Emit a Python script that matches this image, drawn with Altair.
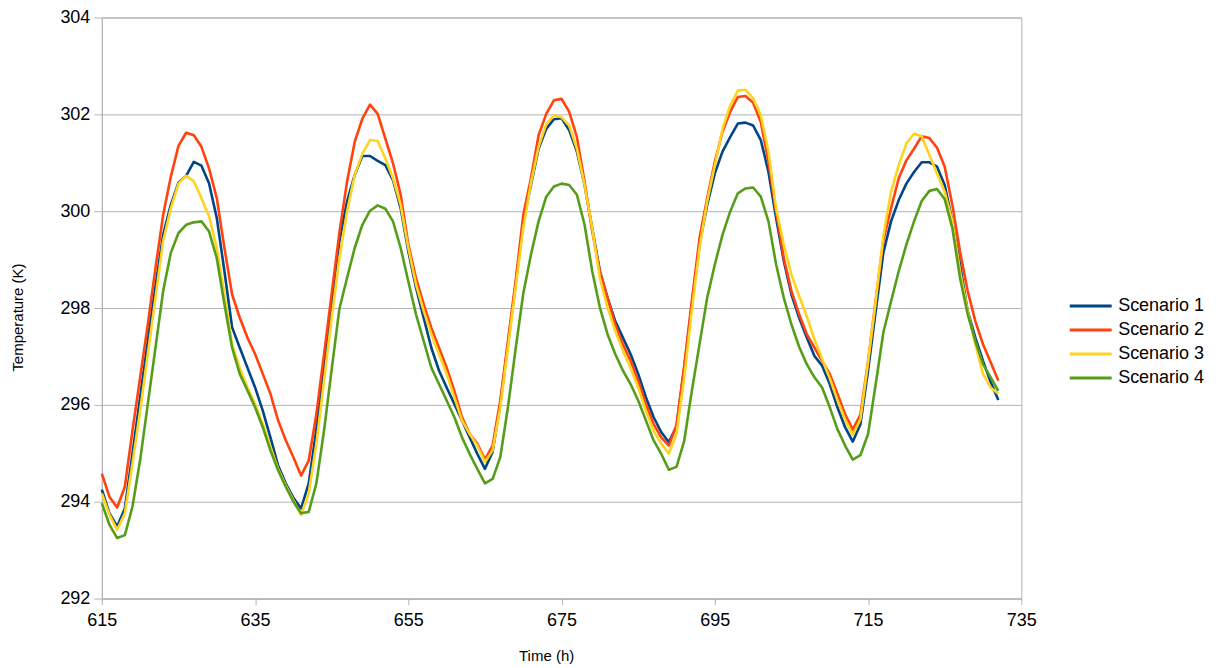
import altair as alt
import pandas as pd

hours = list(range(615, 733))

scenario_1 = [
    294.25, 293.76, 293.49, 293.86, 294.99, 296.16, 297.32, 298.45, 299.51, 300.13,
    300.59, 300.73, 301.02, 300.94, 300.57, 299.86, 298.76, 297.60, 297.18, 296.77,
    296.36, 295.88, 295.33, 294.75, 294.38, 294.08, 293.86, 294.38, 295.50, 296.80,
    298.11, 299.38, 300.20, 300.75, 301.14, 301.14, 301.04, 300.95, 300.64, 300.06,
    299.17, 298.42, 297.80, 297.18, 296.71, 296.36, 296.02, 295.68, 295.33, 294.99,
    294.68, 295.03, 296.02, 297.25, 298.49, 299.79, 300.54, 301.29, 301.70, 301.90,
    301.92, 301.67, 301.23, 300.54, 299.65, 298.76, 298.21, 297.73, 297.39, 297.05,
    296.64, 296.16, 295.75, 295.44, 295.23, 295.56, 296.75, 298.08, 299.31, 300.13,
    300.78, 301.23, 301.53, 301.81, 301.83, 301.77, 301.47, 300.81, 299.86, 298.97,
    298.28, 297.80, 297.39, 297.01, 296.81, 296.43, 295.95, 295.54, 295.24, 295.60,
    296.71, 297.94, 299.15, 299.79, 300.23, 300.57, 300.81, 301.01, 301.01, 300.92,
    300.54, 299.79, 298.90, 297.94, 297.39, 296.91, 296.47, 296.10,
]

scenario_2 = [
    294.58, 294.10, 293.88, 294.31, 295.47, 296.57, 297.66, 298.83, 299.92, 300.71,
    301.35, 301.62, 301.57, 301.33, 300.88, 300.27, 299.24, 298.28, 297.80, 297.39,
    297.05, 296.64, 296.23, 295.68, 295.27, 294.92, 294.54, 294.85, 295.81, 297.05,
    298.30, 299.55, 300.61, 301.43, 301.91, 302.20, 302.01, 301.50, 300.99, 300.34,
    299.31, 298.62, 298.08, 297.59, 297.18, 296.77, 296.29, 295.75, 295.40, 295.20,
    294.87, 295.16, 296.09, 297.32, 298.55, 299.92, 300.68, 301.57, 302.01, 302.29,
    302.32, 302.05, 301.53, 300.61, 299.58, 298.76, 298.21, 297.66, 297.25, 296.91,
    296.50, 296.02, 295.61, 295.33, 295.16, 295.58, 296.80, 298.14, 299.44, 300.27,
    301.02, 301.64, 302.05, 302.36, 302.38, 302.24, 301.84, 301.02, 299.99, 299.03,
    298.35, 297.87, 297.46, 297.18, 296.91, 296.64, 296.23, 295.81, 295.49, 295.80,
    296.90, 298.17, 299.40, 300.06, 300.68, 301.05, 301.29, 301.55, 301.51, 301.31,
    300.92, 300.13, 299.17, 298.35, 297.73, 297.25, 296.88, 296.50,
]

scenario_3 = [
    294.17, 293.73, 293.42, 293.76, 294.79, 295.88, 297.05, 298.21, 299.38, 300.06,
    300.57, 300.73, 300.62, 300.27, 299.89, 299.24, 298.28, 297.25, 296.77, 296.36,
    296.02, 295.61, 295.13, 294.68, 294.34, 294.03, 293.73, 294.17, 295.20, 296.50,
    297.80, 299.03, 299.99, 300.75, 301.19, 301.47, 301.45, 301.09, 300.68, 300.13,
    299.24, 298.49, 297.94, 297.46, 297.05, 296.64, 296.16, 295.68, 295.40, 295.16,
    294.82, 295.06, 295.95, 297.18, 298.42, 299.65, 300.58, 301.33, 301.80, 301.98,
    301.94, 301.77, 301.29, 300.54, 299.65, 298.62, 298.01, 297.53, 297.12, 296.77,
    296.36, 295.88, 295.47, 295.20, 294.99, 295.40, 296.55, 297.94, 299.24, 300.20,
    300.95, 301.70, 302.18, 302.49, 302.51, 302.33, 301.98, 301.23, 300.06, 299.31,
    298.69, 298.25, 297.83, 297.35, 296.95, 296.55, 296.10, 295.70, 295.38, 295.70,
    296.88, 298.15, 299.50, 300.40, 300.95, 301.40, 301.60, 301.55, 301.16, 300.78,
    300.40, 299.79, 298.76, 297.94, 297.25, 296.64, 296.36, 296.23,
]

scenario_4 = [
    293.97, 293.52, 293.25, 293.31, 293.90, 294.86, 296.02, 297.18, 298.35, 299.14,
    299.55, 299.72, 299.77, 299.79, 299.58, 299.03, 298.08, 297.18, 296.64, 296.30,
    295.95, 295.54, 295.06, 294.65, 294.31, 294.00, 293.76, 293.79, 294.38, 295.47,
    296.74, 297.98, 298.62, 299.24, 299.72, 300.01, 300.12, 300.05, 299.79, 299.24,
    298.55, 297.87, 297.32, 296.77, 296.43, 296.09, 295.75, 295.33, 294.99, 294.68,
    294.38, 294.47, 294.92, 295.95, 297.15, 298.30, 299.10, 299.79, 300.30, 300.51,
    300.57, 300.54, 300.34, 299.72, 298.76, 298.01, 297.46, 297.05, 296.71, 296.43,
    296.09, 295.68, 295.27, 294.99, 294.66, 294.72, 295.25, 296.29, 297.25, 298.21,
    298.90, 299.51, 299.99, 300.37, 300.47, 300.49, 300.30, 299.79, 298.90, 298.21,
    297.66, 297.20, 296.84, 296.57, 296.36, 295.95, 295.50, 295.16, 294.87, 294.96,
    295.40, 296.43, 297.50, 298.14, 298.76, 299.31, 299.79, 300.21, 300.42, 300.46,
    300.25, 299.65, 298.62, 297.87, 297.32, 296.84, 296.57, 296.29,
]

series_names = ["Scenario 1", "Scenario 2", "Scenario 3", "Scenario 4"]
series_colors = ["#004586", "#ff420e", "#ffd320", "#579d1c"]
x_ticks = [615, 635, 655, 675, 695, 715, 735]
y_ticks = [292, 294, 296, 298, 300, 302, 304]

rows = []
for name, vals in zip(series_names, [scenario_1, scenario_2, scenario_3, scenario_4]):
    for h, v in zip(hours, vals):
        rows.append({"Time": h, "Temperature": v, "Series": name})
df = pd.DataFrame(rows)

FONT = "Liberation Sans"
GRID = "#b3b3b3"

chart = (
    alt.Chart(df)
    .mark_line(strokeWidth=2.6, strokeJoin="round")
    .encode(
        x=alt.X(
            "Time:Q",
            scale=alt.Scale(domain=[615, 735], nice=False, zero=False),
            axis=alt.Axis(
                values=x_ticks,
                title="Time (h)",
                grid=False,
                domainColor=GRID,
                tickColor=GRID,
                tickSize=6,
                labelPadding=7,
                labelFlush=False,
                labelFontSize=18,
                labelColor="#000000",
                labelFont=FONT,
                titleFont=FONT,
                titleFontSize=15,
                titleFontWeight="normal",
                titleColor="#000000",
                titleX=445,
                titleY=57,
                titleBaseline="middle",
            ),
        ),
        y=alt.Y(
            "Temperature:Q",
            scale=alt.Scale(domain=[292, 304], nice=False, zero=False),
            axis=alt.Axis(
                values=y_ticks,
                title="Temperature  (K)",
                grid=True,
                gridColor=GRID,
                gridWidth=1,
                domainColor=GRID,
                tickColor=GRID,
                tickSize=8,
                labelPadding=4,
                labelFlush=False,
                labelFontSize=18,
                labelColor="#000000",
                labelFont=FONT,
                titleFont=FONT,
                titleFontSize=15,
                titleFontWeight="normal",
                titleColor="#000000",
                titleAngle=-90,
                titleX=-84,
                titleY=300,
                titleBaseline="middle",
                titleAlign="center",
            ),
        ),
        color=alt.Color(
            "Series:N",
            scale=alt.Scale(domain=series_names, range=series_colors),
            legend=alt.Legend(
                title=None,
                orient="none",
                legendX=968,
                legendY=279,
                padding=0,
                symbolType="stroke",
                symbolSize=1764,
                symbolStrokeWidth=3,
                clipHeight=20,
                rowPadding=4,
                labelOffset=5,
                labelFont=FONT,
                labelFontSize=18,
                labelColor="#000000",
            ),
        ),
        order=alt.Order("Time:Q"),
    )
    .properties(
        width=921,
        height=582,
        autosize=alt.AutoSizeParams(type="none"),
        padding={"left": 94, "top": 9, "right": 190, "bottom": 66},
    )
    .configure_view(stroke=GRID, strokeWidth=1)
)

chart.save("out.html", embed_options={"renderer": "svg", "actions": False})
